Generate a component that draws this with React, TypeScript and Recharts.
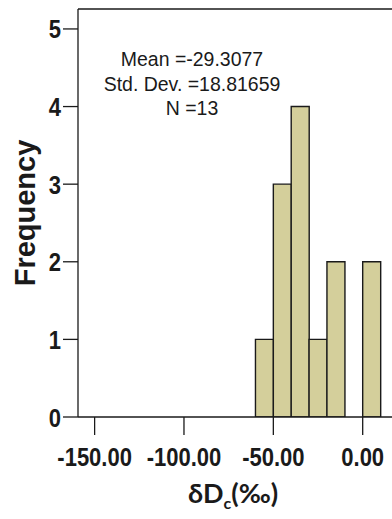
import { BarChart, Bar, XAxis, YAxis, ReferenceLine } from 'recharts';

// histogram bins (10-unit width), centre of each bin
const binCenters = [-55, -45, -35, -25, -15, -5, 5];
const frequencies = [1, 3, 4, 1, 2, 0, 2];
const xTicks = [-150, -100, -50, 0];
const yTicks = [0, 1, 2, 3, 4, 5];
const statLines = ['Mean =-29.3077', 'Std. Dev. =18.81659', 'N =13'];

const data = binCenters.map((c, i) => ({ bin: c, count: frequencies[i] }));

const X_DOMAIN: [number, number] = [-159.3, 16.4];
const Y_MAX = 5.257;
const INK = '#1a1a1a';
const FONT = '"Liberation Sans", Arial, sans-serif';

const XTick = ({ x, y, payload }: any) => (
  <g transform={`translate(${x},${y})`}>
    <text
      transform="scale(0.88,1)"
      textAnchor="middle"
      y={31}
      fontSize={25}
      fontWeight="bold"
      fontFamily={FONT}
      fill={INK}
    >
      {Number(payload.value).toFixed(2)}
    </text>
  </g>
);

const YTick = ({ x, y, payload }: any) => (
  <g transform={`translate(${x},${y})`}>
    <text
      transform="scale(0.88,1)"
      textAnchor="end"
      y={9.5}
      fontSize={25}
      fontWeight="bold"
      fontFamily={FONT}
      fill={INK}
    >
      {payload.value}
    </text>
  </g>
);

export default function App() {
  return (
    <div style={{ position: 'absolute', left: 0, top: 0, width: 392, height: 519, background: '#fff' }}>
      <BarChart
        width={392}
        height={519}
        data={data}
        margin={{ top: 9, right: 0, left: 0, bottom: 0 }}
        barCategoryGap={0}
        barGap={0}
      >
        <XAxis
          dataKey="bin"
          type="number"
          domain={X_DOMAIN}
          allowDataOverflow
          ticks={xTicks}
          interval={0}
          height={102}
          tickSize={18}
          tickMargin={0}
          tick={<XTick />}
          stroke={INK}
          strokeWidth={1.3}
        />
        <YAxis
          type="number"
          domain={[0, Y_MAX]}
          allowDataOverflow
          ticks={yTicks}
          interval={0}
          width={78}
          tickSize={15}
          tickMargin={2}
          tick={<YTick />}
          stroke={INK}
          strokeWidth={1.3}
        />
        <ReferenceLine y={Y_MAX} stroke={INK} strokeWidth={1.3} />
        <Bar
          dataKey="count"
          fill="#d4cf9b"
          stroke={INK}
          strokeWidth={1.4}
          isAnimationActive={false}
        />
      </BarChart>

      {/* axis titles */}
      <div
        style={{
          position: 'absolute',
          left: 25,
          top: 213,
          transform: 'translate(-50%,-50%) rotate(-90deg)',
          fontFamily: FONT,
          fontWeight: 'bold',
          fontSize: 29,
          color: INK,
          whiteSpace: 'nowrap',
        }}
      >
        Frequency
      </div>
      <div
        style={{
          position: 'absolute',
          left: 233,
          top: 494,
          transform: 'translate(-50%,-50%)',
          fontFamily: 'Lato, sans-serif',
          fontWeight: 'bold',
          fontSize: 27,
          color: INK,
          whiteSpace: 'nowrap',
        }}
      >
        δD<sub style={{ fontSize: 16 }}>c</sub>(‰)
      </div>

      {/* stats box */}
      <div
        style={{
          position: 'absolute',
          left: 192,
          top: 47,
          transform: 'translateX(-50%) scaleX(0.95)',
          fontFamily: FONT,
          fontSize: 20.5,
          lineHeight: '24.7px',
          color: INK,
          textAlign: 'center',
          whiteSpace: 'nowrap',
        }}
      >
        {statLines.map((s) => (
          <div key={s}>{s}</div>
        ))}
      </div>
    </div>
  );
}
